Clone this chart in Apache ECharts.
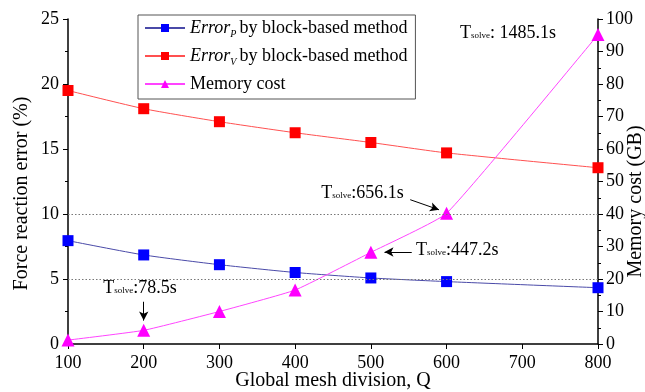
<!DOCTYPE html>
<html><head><meta charset="utf-8">
<script src="https://cdn.jsdelivr.net/npm/echarts@6/dist/echarts.min.js"></script>
<style>html,body{margin:0;padding:0;background:#fff}#c{width:645px;height:392px}</style>
</head><body><div id="c"></div>
<script>
var meshQ = [100, 200, 300, 400, 500, 600, 800];
var errorP = [7.95, 6.85, 6.1, 5.5, 5.08, 4.8, 4.33];
var errorV = [19.5, 18.1, 17.1, 16.25, 15.5, 14.7, 13.56];
var memory = [1.2, 4.2, 10.0, 16.6, 28.2, 40.2, 95.2];
var xTicks = [100, 200, 300, 400, 500, 600, 700, 800];
var solveLabels = [
  {t: '1485.1s', sep: ': ', coord: [681, 95.5]},
  {t: '656.1s', sep: ':', coord: [489, 46.3]},
  {t: '447.2s', sep: ':', coord: [614, 28.9]},
  {t: '78.5s', sep: ':', coord: [195, 17.2]}
];
var arrows = [
  [[200, 13.0], [200, 7.2]],
  [[554, 28.3], [518, 28.3]],
  [[552, 44.4], [590, 41.3]]
];
var FONT = '"Liberation Serif", "Times New Roman", serif';
var chart = echarts.init(document.getElementById('c'));
function pairs(ys){ return meshQ.map(function(q,i){return [q, ys[i]];}); }
var rich = {
  it: {fontFamily: FONT, fontStyle: 'italic', fontSize: 18, color: '#000'},
  sub: {fontFamily: FONT, fontStyle: 'italic', fontSize: 10, color: '#000', padding: [12,3,0,0]},
  n: {fontFamily: FONT, fontSize: 18, color: '#000'},
  nw: {fontFamily: FONT, fontSize: 18, color: '#000', padding: [0, 10, 0, 0]},
  T: {fontFamily: FONT, fontSize: 18, color: '#000'},
  s: {fontFamily: FONT, fontSize: 9, color: '#000', padding: [5,0,0,0]}
};
chart.setOption({
  animation: false,
  textStyle: {fontFamily: FONT},
  grid: {left: 68, right: 47, top: 19, bottom: 48, outerBoundsMode: 'none', containLabel: false},
  legend: {
    orient: 'vertical', left: 138, top: 15,
    borderColor: '#555', borderWidth: 1, padding: [4, 8, 6, 6],
    itemWidth: 40, itemHeight: 10, itemGap: 8,
    textStyle: {fontFamily: FONT, fontSize: 18, color: '#000', rich: rich},
    formatter: function(name){
      if (name === 'P') return '{it|Error}{sub|P}{nw|by block-based method}';
      if (name === 'V') return '{it|Error}{sub|V}{nw|by block-based method}';
      return '{n|' + name + '}';
    },
    data: ['P', 'V', 'Memory cost']
  },
  xAxis: {
    type: 'value', min: 100, max: 800, interval: 100,
    name: 'Global mesh division, Q', nameLocation: 'middle', nameGap: 27, nameMoveOverlap: false,
    nameTextStyle: {fontFamily: FONT, fontSize: 20, color: '#000'},
    axisLine: {show: true, onZero: false, lineStyle: {color: '#000', width: 1.5}},
    axisTick: {show: true, length: 5, lineStyle: {color: '#000'}},
    minorTick: {show: false},
    axisLabel: {fontFamily: FONT, fontSize: 18, color: '#000', margin: 10,
      formatter: function(v){ return xTicks.indexOf(v) >= 0 ? String(v) : ''; }},
    splitLine: {show: false}
  },
  yAxis: [{
    type: 'value', min: 0, max: 25, interval: 5, position: 'left',
    name: 'Force reaction error (%)', nameLocation: 'middle', nameGap: 36, nameMoveOverlap: false,
    nameTextStyle: {fontFamily: FONT, fontSize: 20, color: '#000', padding: [0,0,0,-24]},
    axisLine: {show: true, lineStyle: {color: '#000', width: 1.5}},
    axisTick: {show: true, length: 5, lineStyle: {color: '#000'}},
    minorTick: {show: true, splitNumber: 2, length: 3, lineStyle: {color: '#000'}},
    axisLabel: {fontFamily: FONT, fontSize: 18, color: '#000', margin: 9},
    splitLine: {show: false}
  }, {
    type: 'value', min: 0, max: 100, interval: 10, position: 'right',
    name: 'Memory cost (GB)', nameLocation: 'middle', nameGap: 28, nameMoveOverlap: false,
    nameTextStyle: {fontFamily: FONT, fontSize: 20, color: '#000', padding: [0,0,0,-40]},
    axisLine: {show: true, lineStyle: {color: '#000', width: 1.5}},
    axisTick: {show: true, length: 5, lineStyle: {color: '#000'}},
    minorTick: {show: true, splitNumber: 2, length: 3, lineStyle: {color: '#000'}},
    axisLabel: {fontFamily: FONT, fontSize: 18, color: '#000', margin: 8},
    splitLine: {show: false}
  }],
  series: [{
    name: 'P', type: 'line', yAxisIndex: 0, data: pairs(errorP), smooth: 0.2,
    symbol: 'rect', symbolSize: 11,
    itemStyle: {color: '#0000ff'}, lineStyle: {color: '#4a4aa8', width: 1},
    markLine: {silent: true, symbol: 'none', label: {show: false},
      lineStyle: {color: '#777', type: [1.5, 2], width: 1},
      data: [{yAxis: 5}, {yAxis: 10}]}
  }, {
    name: 'V', type: 'line', yAxisIndex: 0, data: pairs(errorV), smooth: 0.2,
    symbol: 'rect', symbolSize: 11,
    itemStyle: {color: '#ff0000'}, lineStyle: {color: '#ff5050', width: 1}
  }, {
    name: 'Memory cost', type: 'line', yAxisIndex: 1, data: pairs(memory), smooth: 0.12,
    symbol: 'triangle', symbolSize: 13,
    itemStyle: {color: '#ff00ff'}, lineStyle: {color: '#ff44ff', width: 1},
    markPoint: {
      symbol: 'circle', symbolSize: 0, silent: true,
      label: {show: true, position: 'inside', rich: rich,
        formatter: function(p){ return p.name; }},
      data: solveLabels.map(function(o){
        return {name: '{T|T}{s|solve}{T|' + o.sep + o.t + '}', coord: o.coord};
      })
    },
    markLine: {
      silent: true, symbol: ['none', 'arrow'], symbolSize: [7, 9],
      label: {show: false},
      lineStyle: {color: '#000', type: 'solid', width: 1},
      data: arrows.map(function(a){ return [{coord: a[0]}, {coord: a[1]}]; })
    }
  }]
});
</script></body></html>
